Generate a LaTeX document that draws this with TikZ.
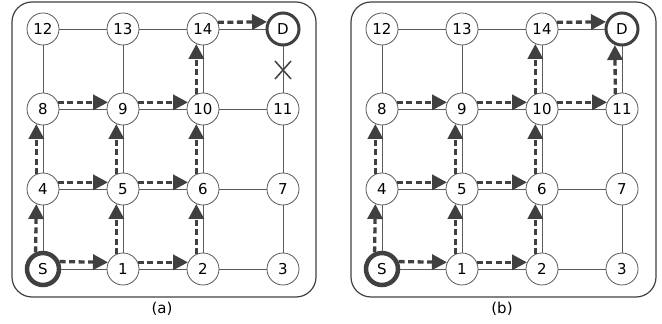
\documentclass[tikz,border=0pt]{standalone}
\usepackage{fontspec}
\setmainfont{DejaVu Sans}
\usetikzlibrary{arrows.meta,calc}
\definecolor{dk}{HTML}{404040}
\definecolor{ln}{HTML}{5A5A5A}
\begin{document}
\begin{tikzpicture}[x=1pt,y=1pt,
  nd/.style={circle,draw=ln,fill=white,line width=0.8pt,minimum size=32pt,inner sep=0pt,font=\fontsize{15}{17}\selectfont},
  sn/.style={nd,draw=dk,line width=4.5pt},
  dn/.style={nd,draw=dk,line width=3pt},
  gridln/.style={draw=ln,line width=0.9pt},
  pth/.style={draw=dk,line width=3.3pt,dash pattern=on 6pt off 3.5pt,-{Triangle[length=15pt,width=15pt]}},
  frm/.style={draw=dk,line width=1.2pt,rounded corners=20pt},
  lbl/.style={font=\fontsize{15}{17}\selectfont}]
\useasboundingbox (0,0) rectangle (662,324);
% frames
\draw[frm] (12,27) rectangle (316,322);
\draw[frm] (351,27) rectangle (656,322);
\node[lbl] (capa) at (162,15) {(a)};
\node[lbl] (capb) at (502,15) {(b)};
% nodes
\foreach \p/\ox in {a/43,b/382}{
  \foreach \n/\i/\j/\t/\s in {0/0/0/S/sn,1/1/0/1/nd,2/2/0/2/nd,3/3/0/3/nd,
    4/0/1/4/nd,5/1/1/5/nd,6/2/1/6/nd,7/3/1/7/nd,
    8/0/2/8/nd,9/1/2/9/nd,10/2/2/10/nd,11/3/2/11/nd,
    12/0/3/12/nd,13/1/3/13/nd,14/2/3/14/nd,15/3/3/D/dn}{
    \node[\s] (\p\n) at (\ox+80*\i,55+80*\j) {\t};
  }
  % grid edges
  \foreach \j in {0,...,3}{
    \foreach \i in {0,1,2}{
      \pgfmathtruncatemacro\u{4*\j+\i}
      \pgfmathtruncatemacro\v{4*\j+\i+1}
      \draw[gridln] (\p\u) -- (\p\v);
    }
  }
  \foreach \j in {0,1,2}{
    \foreach \i in {0,...,3}{
      \pgfmathtruncatemacro\u{4*\j+\i}
      \pgfmathtruncatemacro\v{4*\j+\i+4}
      \draw[gridln] (\p\u) -- (\p\v);
    }
  }
  % common path arrows
  \foreach \u/\v in {0/1,1/2,4/5,5/6,8/9,9/10,14/15}{
    \draw[pth] (\p\u.24) -- (\p\v.156);
  }
  \foreach \u/\v in {0/4,1/5,4/8,5/9,2/6,6/10,10/14}{
    \draw[pth] (\p\u.114) -- (\p\v.246);
  }
}
% extra arrows in (b)
\draw[pth] (b10.24) -- (b11.156);
\draw[pth] (b11.114) -- (b15.246);
% broken link in (a)
\coordinate (xm) at ($(a11)!0.5!(a15)+(0,-1)$);
\draw[dk,line width=1.5pt] ($(xm)+(-8,-9)$) -- ($(xm)+(8,9)$) ($(xm)+(-8,9)$) -- ($(xm)+(8,-9)$);
\end{tikzpicture}
\end{document}
